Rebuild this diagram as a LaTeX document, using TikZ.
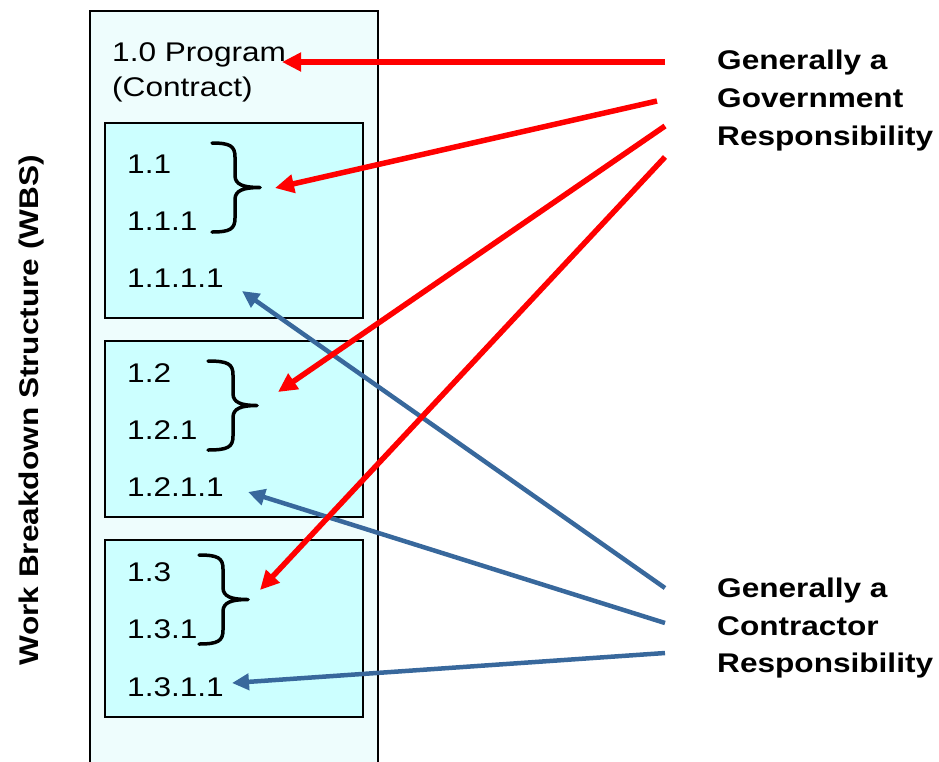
\documentclass[tikz,border=0pt]{standalone}
\usepackage{fontspec}
\setmainfont{Liberation Sans}[FakeStretch=1.17]
\usetikzlibrary{arrows.meta}

\definecolor{paleCyan}{RGB}{238,253,253}
\definecolor{boxCyan}{RGB}{204,255,255}
\definecolor{govRed}{RGB}{255,0,0}
\definecolor{conBlue}{RGB}{56,104,156}

\tikzset{
  wbsbox/.style={draw=black, line width=2.8pt, fill=boxCyan, minimum width=258pt, inner sep=0pt},
  code/.style={anchor=base west, inner sep=0pt, font=\fontsize{27}{35}\selectfont},
  resp/.style={anchor=base west, inner sep=0pt, font=\fontsize{27}{38}\selectfont\bfseries},
  govarrow/.style={draw=govRed, line width=5.5pt, -{Triangle[length=19pt,width=18pt]}},
  conarrow/.style={draw=conBlue, line width=4.5pt, -{Triangle[length=17pt,width=16pt]}},
  bracket/.style={draw=black, line width=3.5pt, line cap=round}
}

% right brace: start x, spine x, tip x, top y, bottom y
\newcommand\wbsbrace[5]{%
  \draw[bracket] (#1,#4) .. controls (#2-5,#4) and (#2,#4+3) .. (#2,#4+14)
    -- (#2,{(#4+#5)/2-12}) .. controls (#2,{(#4+#5)/2-3}) and (#2+8,{(#4+#5)/2}) .. (#3,{(#4+#5)/2})
    (#3,{(#4+#5)/2}) .. controls (#2+8,{(#4+#5)/2}) and (#2,{(#4+#5)/2+3}) .. (#2,{(#4+#5)/2+12})
    -- (#2,#5-14) .. controls (#2,#5-3) and (#2-5,#5) .. (#1,#5);}

\begin{document}
\begin{tikzpicture}[x=1pt,y=-1pt]
  \useasboundingbox (0,0) rectangle (939,761);
  \clip (0,0) rectangle (939,761);

  % outer program column (runs past the bottom edge)
  \draw[line width=2.5pt, fill=paleCyan] (90,11) rectangle (378,775);

  % vertical title
  \node[rotate=90, inner sep=0pt, font=\fontsize{27}{32}\selectfont\bfseries] (wbs) at (32,410)
    {Work Breakdown Structure (WBS)};

  % top-level element
  \node[code] (prog) at (112,61) {1.0 Program};
  \node[code] (contract) at (112,96) {(Contract)};

  % sub-element boxes
  \node[wbsbox, minimum height=195pt] (box1) at (234,220.5) {};
  \node[wbsbox, minimum height=176pt] (box2) at (234,429) {};
  \node[wbsbox, minimum height=177pt] (box3) at (234,628.5) {};

  \node[code] (e11) at (127,173) {1.1};
  \node[code] (e111) at (127,230) {1.1.1};
  \node[code] (e1111) at (127,287) {1.1.1.1};

  \node[code] (e12) at (127,382) {1.2};
  \node[code] (e121) at (127,439) {1.2.1};
  \node[code] (e1211) at (127,496) {1.2.1.1};

  \node[code] (e13) at (127,581) {1.3};
  \node[code] (e131) at (127,638) {1.3.1};
  \node[code] (e1311) at (127,696) {1.3.1.1};

  \wbsbrace{212}{235}{260}{143}{232}
  \wbsbrace{208}{233}{257}{361}{450}
  \wbsbrace{199}{223}{248}{555}{644}

  % responsibility labels
  \node[resp] (gov1) at (717,69) {Generally a};
  \node[resp] (gov2) at (717,107) {Government};
  \node[resp] (gov3) at (717,145) {Responsibility};
  \node[resp] (con1) at (717,597) {Generally a};
  \node[resp] (con2) at (717,635) {Contractor};
  \node[resp] (con3) at (717,672) {Responsibility};

  % arrow ends
  \coordinate (g0) at (665,62);
  \coordinate (g1) at (657,101);
  \coordinate (g2) at (665,126);
  \coordinate (g3) at (665,157);
  \coordinate (c1) at (665,588);
  \coordinate (c2) at (665,623);
  \coordinate (c3) at (665,653);

  \coordinate (p0) at (282,62);
  \coordinate (b1) at (275,188);
  \coordinate (b2) at (278,392);
  \coordinate (b3) at (260,590);
  \coordinate (t1) at (242,291);
  \coordinate (t2) at (248,492);
  \coordinate (t3) at (232,683);

  \draw[conarrow] (c1) -- (t1);
  \draw[conarrow] (c2) -- (t2);
  \draw[conarrow] (c3) -- (t3);

  \draw[govarrow] (g0) -- (p0);
  \draw[govarrow] (g1) -- (b1);
  \draw[govarrow] (g2) -- (b2);
  \draw[govarrow] (g3) -- (b3);
\end{tikzpicture}
\end{document}
